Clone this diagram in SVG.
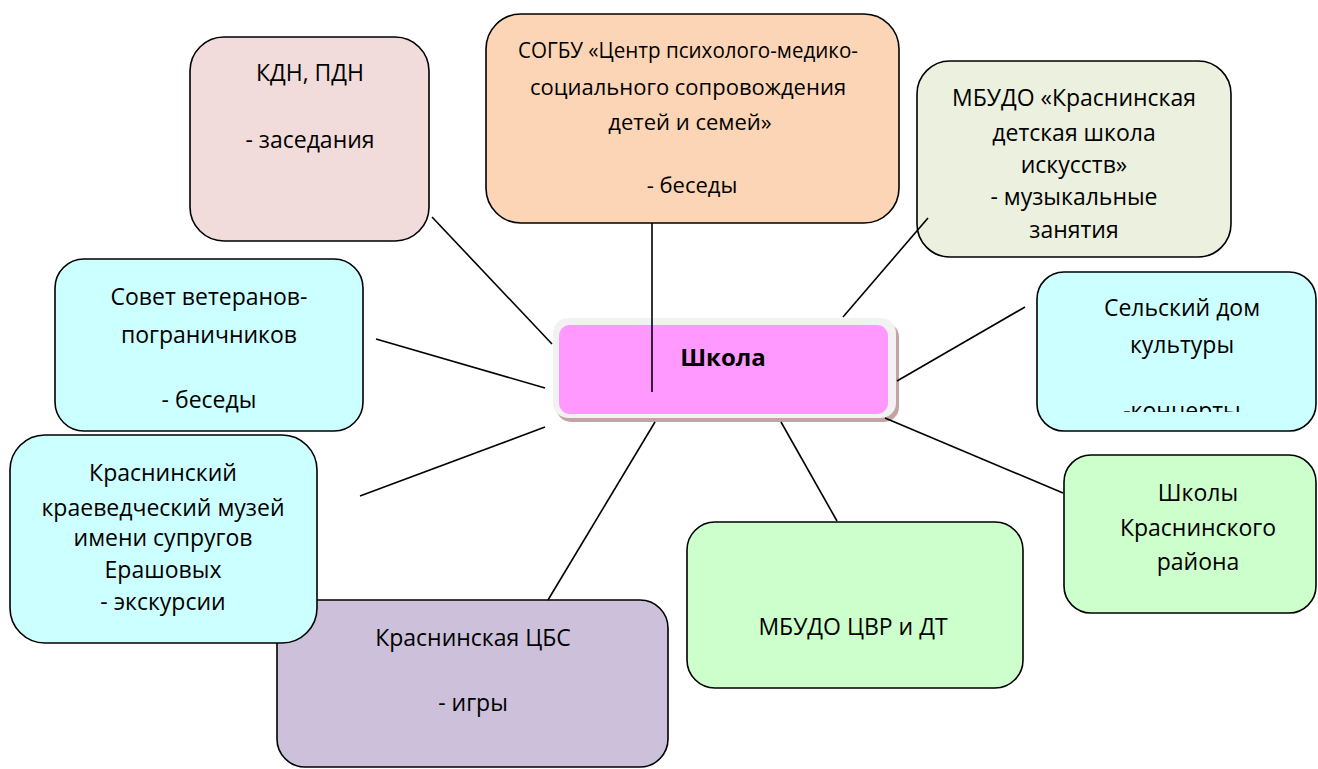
<svg xmlns="http://www.w3.org/2000/svg" width="1318" height="769" viewBox="0 0 1318 769">
<style>
.box{stroke:#000;stroke-width:1.6}
text{font-family:"Open Sans","Noto Sans","Liberation Sans",sans-serif;font-size:23px;fill:#000;text-anchor:middle}
.sm{font-size:22px}
.bold{font-weight:bold;font-size:24px}
.con{stroke:#000;stroke-width:1.6;fill:none}
</style>
<defs>
<clipPath id="clipSdk"><rect x="1037" y="272" width="281" height="140"/></clipPath>
</defs>
<rect width="1318" height="769" fill="#fff"/>
<g id="node-kdn">
<rect class="box" x="190" y="37" width="239" height="204" rx="34" fill="#f2dcdb"/>
<text x="310" y="81">КДН, ПДН</text>
<text x="310" y="148">- заседания</text>
</g>
<g id="node-sogbu">
<rect class="box" x="486" y="14" width="413" height="209" rx="35" fill="#fbd5b5"/>
<text class="sm" x="688" y="58" textLength="340" lengthAdjust="spacingAndGlyphs">СОГБУ «Центр психолого-медико-</text>
<text class="sm" x="688" y="95">социального сопровождения</text>
<text class="sm" x="690" y="130">детей и семей»</text>
<text class="sm" x="692" y="193">- беседы</text>
</g>
<g id="node-dshi">
<rect class="box" x="917" y="61" width="314" height="196" rx="33" fill="#ebf1de"/>
<text x="1074" y="106">МБУДО «Краснинская</text>
<text x="1074" y="141">детская школа</text>
<text x="1074" y="173">искусств»</text>
<text x="1074" y="205">- музыкальные</text>
<text x="1074" y="238">занятия</text>
</g>
<g id="node-sovet">
<rect class="box" x="55" y="259" width="308" height="172" rx="29" fill="#ccffff"/>
<text x="209" y="305">Совет ветеранов-</text>
<text x="209" y="343">пограничников</text>
<text x="209" y="408">- беседы</text>
</g>
<g id="node-sdk">
<rect class="box" x="1037" y="272" width="279" height="159" rx="27" fill="#ccffff"/>
<g clip-path="url(#clipSdk)">
<text x="1182" y="316">Сельский дом</text>
<text x="1182" y="353">культуры</text>
<text x="1182" y="419">-концерты</text>
</g>
</g>
<g id="node-cbs">
<rect class="box" x="277" y="600" width="391" height="167" rx="28" fill="#ccc0da"/>
<text x="473" y="646">Краснинская ЦБС</text>
<text x="473" y="711">- игры</text>
</g>
<g id="node-muzey">
<rect class="box" x="10" y="435" width="307" height="208" rx="35" fill="#ccffff"/>
<text x="163" y="481">Краснинский</text>
<text x="163" y="516">краеведческий музей</text>
<text x="163" y="546">имени супругов</text>
<text x="163" y="578">Ерашовых</text>
<text x="163" y="610">- экскурсии</text>
</g>
<g id="node-cvr">
<rect class="box" x="687" y="522" width="336" height="166" rx="28" fill="#ccffcc"/>
<text x="853" y="635">МБУДО ЦВР и ДТ</text>
</g>
<g id="node-shkoly">
<rect class="box" x="1064" y="455" width="252" height="158" rx="27" fill="#ccffcc"/>
<text x="1198" y="501">Школы</text>
<text x="1198" y="536">Краснинского</text>
<text x="1198" y="570">района</text>
</g>
<g id="node-shkola">
<rect x="556" y="322" width="343" height="100" rx="15" fill="#c4a3a3"/>
<rect x="553" y="318" width="343" height="100" rx="15" fill="#f2f2f2"/>
<rect x="559" y="325" width="329" height="89" rx="11" fill="#ff99ff"/>
<text class="bold" x="723" y="366">Школа</text>
</g>
<g id="connectors">
<line class="con" x1="652" y1="223" x2="652" y2="392"/>
<line class="con" x1="432" y1="217" x2="552" y2="344"/>
<line class="con" x1="376" y1="339" x2="545" y2="388"/>
<line class="con" x1="360" y1="496" x2="545" y2="427"/>
<line class="con" x1="548" y1="600" x2="655" y2="422"/>
<line class="con" x1="837" y1="521" x2="781" y2="422"/>
<line class="con" x1="1063" y1="493" x2="885" y2="418"/>
<line class="con" x1="1025" y1="307" x2="897" y2="381"/>
<line class="con" x1="843" y1="317" x2="928" y2="218"/>
</g>
</svg>
